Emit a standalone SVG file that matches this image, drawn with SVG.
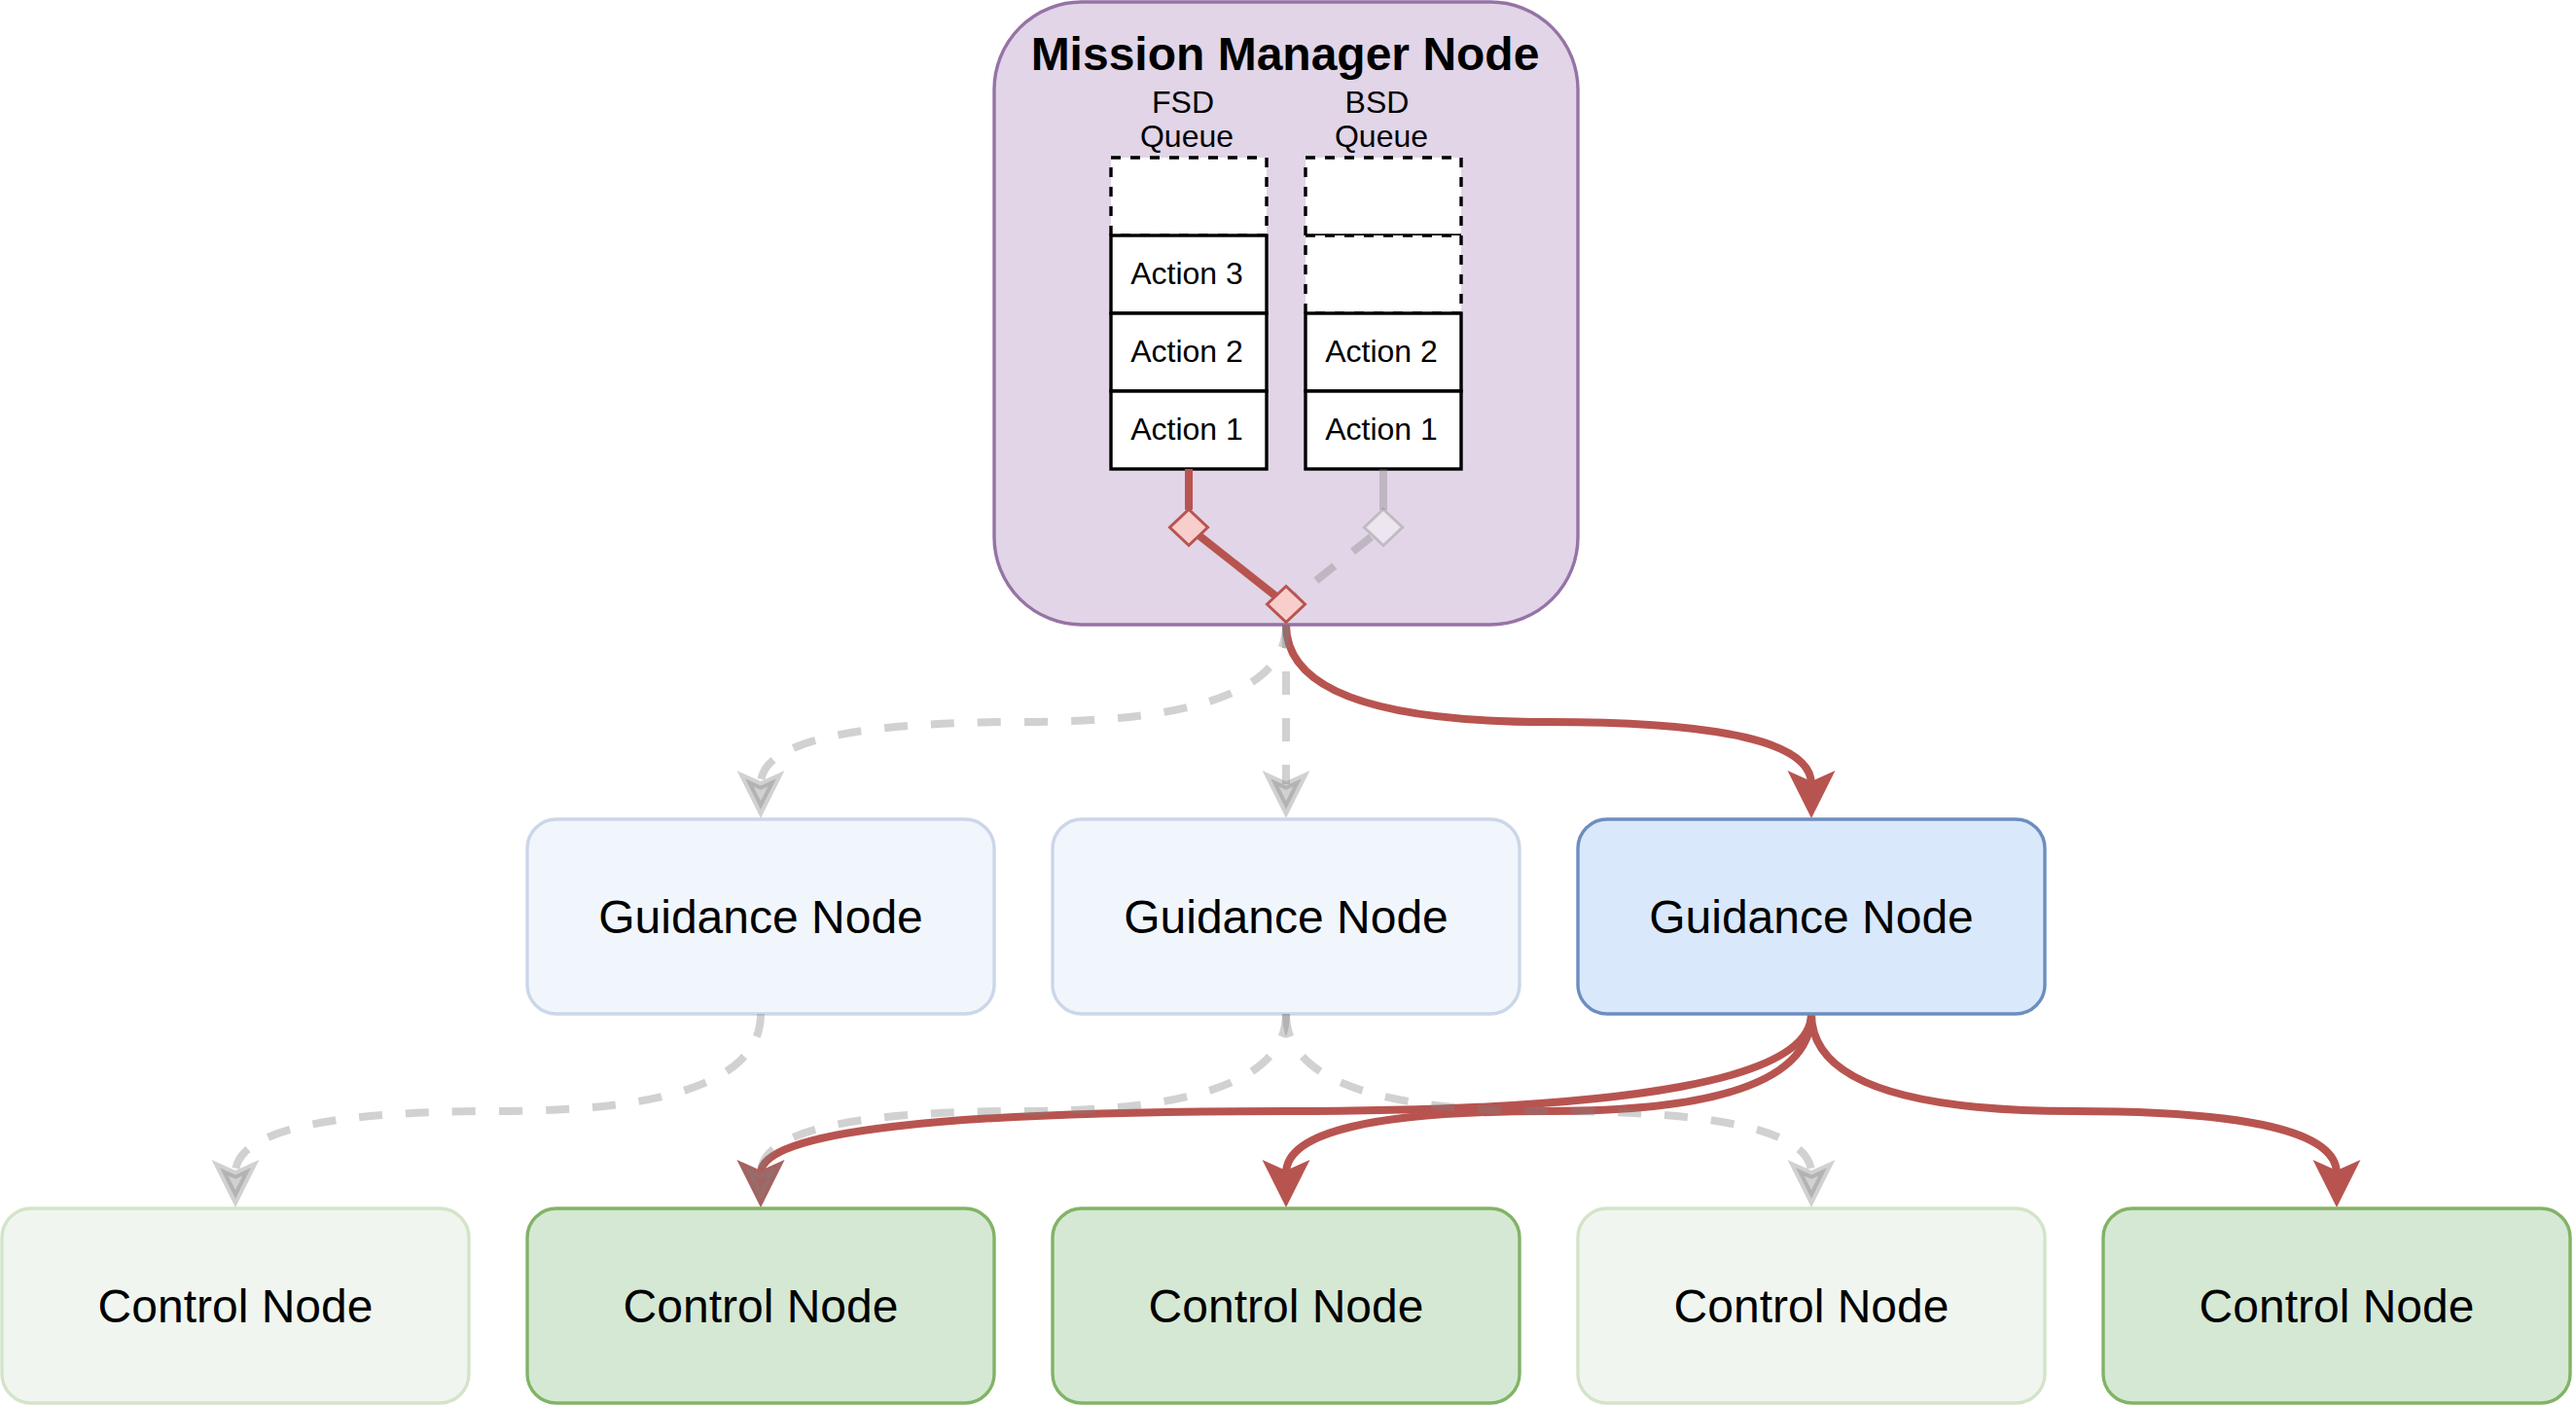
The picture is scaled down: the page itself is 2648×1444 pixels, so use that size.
<svg xmlns="http://www.w3.org/2000/svg" width="2648" height="1444" viewBox="0 0 2648 1444">
<style>
 text { font-family: "Liberation Sans", Arial, Helvetica, sans-serif; fill:#000; }
 .title { font-size:48px; font-weight:bold; text-anchor:middle; }
 .label { font-size:48px; text-anchor:middle; }
 .small { font-size:32px; text-anchor:middle; }
 .mm { fill:#e1d5e7; stroke:#9673a6; stroke-width:3.4; }
 .cell { fill:#fff; stroke:#000; stroke-width:3.4; }
 .cell-empty { fill:#fff; stroke:#000; stroke-width:3.4; stroke-dasharray:10 10; }
 .guid { fill:#dae8fc; stroke:#6c8ebf; stroke-width:3.4; }
 .ctrl { fill:#d5e8d4; stroke:#82b366; stroke-width:3.4; }
 .faded { opacity:.35; }
 .red { fill:none; stroke:#b85450; stroke-width:8; }
 .grey { fill:none; stroke:#808080; stroke-opacity:.36; stroke-width:8; }
 .dash { stroke-dasharray:24 24; }
 .dia-red { fill:#f8cecc; stroke:#b85450; stroke-width:3; }
 .dia-grey { fill:#fff; fill-opacity:.4; stroke:#808080; stroke-opacity:.36; stroke-width:3; }
</style>
<defs>
 <path id="diamond" d="M0,-18.5 L19.5,0 L0,18.5 L-19.5,0 Z"/>
 <marker id="arrow-red" markerUnits="userSpaceOnUse" orient="auto" viewBox="-20 -30 70 60" refX="3" refY="0" markerWidth="70" markerHeight="60" overflow="visible">
  <path d="M38,0 L-11,-24.5 L0,0 L-11,24.5 Z" fill="#b85450"/>
 </marker>
 <marker id="arrow-grey" markerUnits="userSpaceOnUse" orient="auto" viewBox="-20 -30 70 60" refX="3" refY="0" markerWidth="70" markerHeight="60" overflow="visible">
  <path d="M29.05,0 L-2.75,-15.9 L4.4,0 L-2.75,15.9 Z" fill="#808080" fill-opacity=".36" stroke="#808080" stroke-opacity=".36" stroke-width="8" stroke-linejoin="miter"/>
 </marker>
</defs>

<g id="mission-manager">
 <rect class="mm" x="1022" y="2" width="600" height="640" rx="90" ry="90"/>
 <text class="title" x="1321" y="72">Mission Manager Node</text>
</g>

<g id="fsd-queue">
 <text class="small" x="1216" y="116">FSD</text>
 <text class="small" x="1220" y="151">Queue</text>
 <rect class="cell-empty" x="1142" y="162" width="160" height="80"/>
 <rect class="cell" x="1142" y="242" width="160" height="80"/>
 <rect class="cell" x="1142" y="322" width="160" height="80"/>
 <rect class="cell" x="1142" y="402" width="160" height="80"/>
 <text class="small" x="1220" y="292">Action 3</text>
 <text class="small" x="1220" y="372">Action 2</text>
 <text class="small" x="1220" y="452">Action 1</text>
</g>

<g id="bsd-queue">
 <text class="small" x="1415.5" y="116">BSD</text>
 <text class="small" x="1420" y="151">Queue</text>
 <rect class="cell-empty" x="1342" y="162" width="160" height="80"/>
 <rect class="cell-empty" x="1342" y="242" width="160" height="80"/>
 <rect class="cell" x="1342" y="322" width="160" height="80"/>
 <rect class="cell" x="1342" y="402" width="160" height="80"/>
 <text class="small" x="1420" y="372">Action 2</text>
 <text class="small" x="1420" y="452">Action 1</text>
</g>

<g id="connectors">
 <path class="red" d="M1222,482 L1222,524"/>
 <path class="grey" d="M1422,482 L1422,524"/>
 <path class="red" d="M1222,542 L1322,621"/>
 <path class="grey dash" style="stroke-dashoffset:32" d="M1422,542 L1322,621"/>
 <use href="#diamond" class="dia-red" x="1222" y="542"/>
 <use href="#diamond" class="dia-grey" x="1422" y="542"/>
 <use href="#diamond" class="dia-red" x="1322" y="621"/>

 <path class="red" marker-end="url(#arrow-red)" d="M1322,642 Q1322,742 1592,742 Q1862,742 1862,806"/>
 <path class="grey dash" marker-end="url(#arrow-grey)" d="M1322,642 Q1322,742 1052,742 Q782,742 782,806"/>
 <path class="grey dash" marker-end="url(#arrow-grey)" d="M1322,642 L1322,806"/>

 <path class="red" marker-end="url(#arrow-red)" d="M1862,1042 Q1862,1142 1322,1142 Q782,1142 782,1206"/>
 <path class="red" marker-end="url(#arrow-red)" d="M1862,1042 Q1862,1142 1592,1142 Q1322,1142 1322,1206"/>
 <path class="red" marker-end="url(#arrow-red)" d="M1862,1042 Q1862,1142 2132,1142 Q2402,1142 2402,1206"/>

 <path class="grey dash" marker-end="url(#arrow-grey)" d="M782,1042 Q782,1142 512,1142 Q242,1142 242,1206"/>
 <path class="grey dash" marker-end="url(#arrow-grey)" d="M1322,1042 Q1322,1142 1052,1142 Q782,1142 782,1206"/>
 <path class="grey dash" marker-end="url(#arrow-grey)" d="M1322,1042 Q1322,1142 1592,1142 Q1862,1142 1862,1206"/>
</g>

<g id="guidance-1">
 <rect class="guid faded" x="542" y="842" width="480" height="200" rx="30" ry="30"/>
 <text class="label" x="782" y="958.5">Guidance Node</text>
</g>
<g id="guidance-2">
 <rect class="guid faded" x="1082" y="842" width="480" height="200" rx="30" ry="30"/>
 <text class="label" x="1322" y="958.5">Guidance Node</text>
</g>
<g id="guidance-3">
 <rect class="guid" x="1622" y="842" width="480" height="200" rx="30" ry="30"/>
 <text class="label" x="1862" y="958.5">Guidance Node</text>
</g>

<g id="control-1">
 <rect class="ctrl faded" x="2" y="1242" width="480" height="200" rx="30" ry="30"/>
 <text class="label" x="242" y="1358.5">Control Node</text>
</g>
<g id="control-2">
 <rect class="ctrl" x="542" y="1242" width="480" height="200" rx="30" ry="30"/>
 <text class="label" x="782" y="1358.5">Control Node</text>
</g>
<g id="control-3">
 <rect class="ctrl" x="1082" y="1242" width="480" height="200" rx="30" ry="30"/>
 <text class="label" x="1322" y="1358.5">Control Node</text>
</g>
<g id="control-4">
 <rect class="ctrl faded" x="1622" y="1242" width="480" height="200" rx="30" ry="30"/>
 <text class="label" x="1862" y="1358.5">Control Node</text>
</g>
<g id="control-5">
 <rect class="ctrl" x="2162" y="1242" width="480" height="200" rx="30" ry="30"/>
 <text class="label" x="2402" y="1358.5">Control Node</text>
</g>
</svg>
